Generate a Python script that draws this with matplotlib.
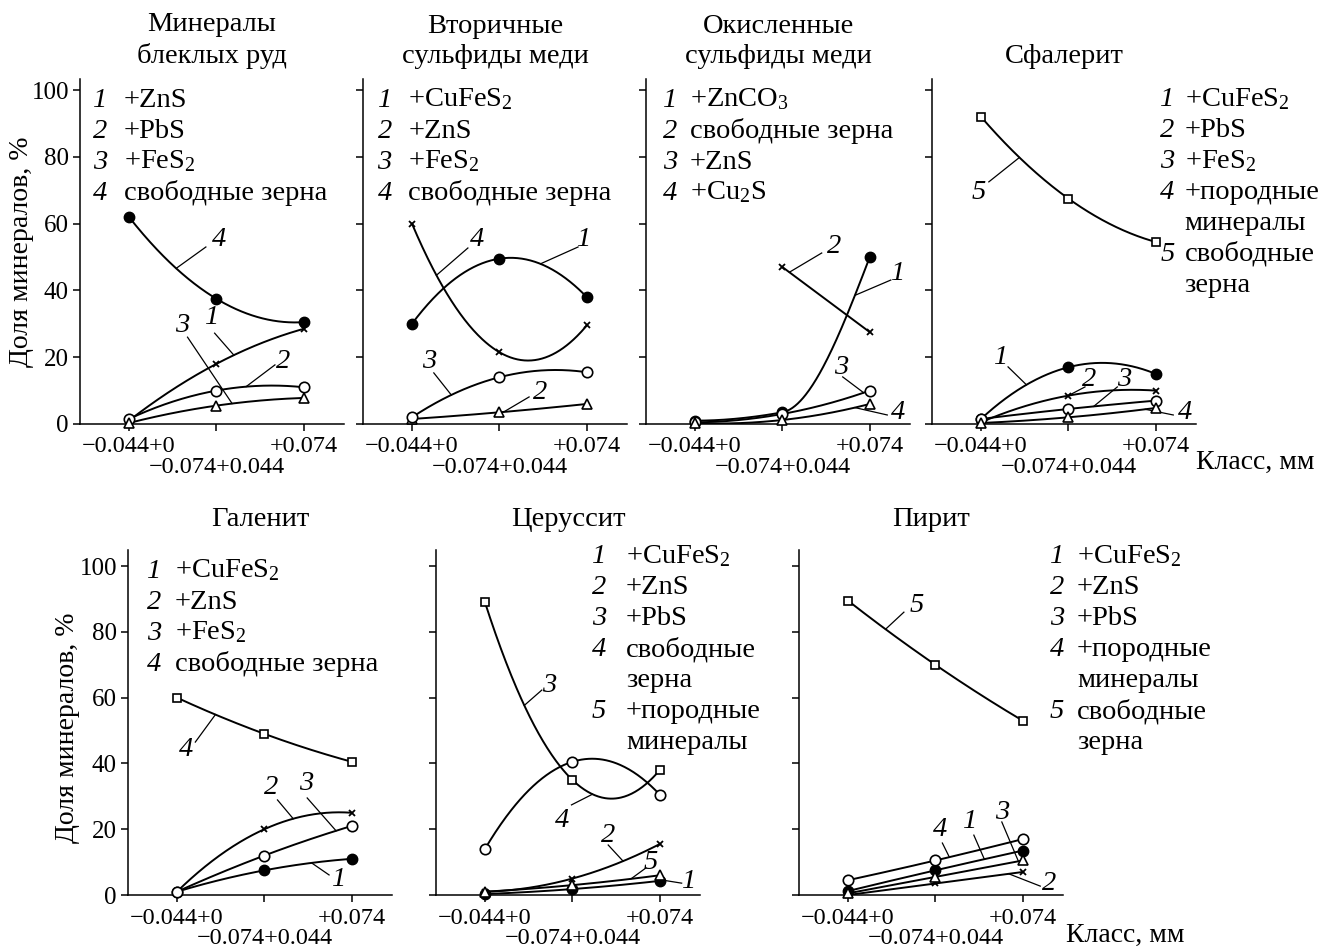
import numpy as np
import matplotlib
matplotlib.use('Agg')
import matplotlib.pyplot as plt
from matplotlib.transforms import blended_transform_factory

plt.rcParams['font.family'] = ['Liberation Serif', 'DejaVu Serif']
plt.rcParams['mathtext.fontset'] = 'custom'
plt.rcParams['mathtext.rm'] = 'Liberation Serif'
plt.rcParams['mathtext.it'] = 'Liberation Serif:italic'
plt.rcParams['font.size'] = 20.5

# size classes, mm
classes = ['\u22120.044+0', '\u22120.074+0.044', '+0.074']
nan = np.nan

# Минералы блеклых руд
fahl_zns = [1.0, 18, 28.5]
fahl_pbs = [1.5, 10, 11]
fahl_fes2 = [0.3, 5.5, 7.8]
fahl_free = [62, 37.5, 30.5]

# Вторичные сульфиды меди
sec_cufes2 = [30, 49.5, 38]
sec_zns = [1.5, 3.5, 6]
sec_fes2 = [2, 14, 15.5]
sec_free = [60, 21.5, 29.5]

# Окисленные сульфиды меди
ox_znco3 = [1, 3.5, 50]
ox_free = [nan, 47, 27.5]
ox_zns = [0.5, 3, 10]
ox_cu2s = [0.3, 1.2, 6]

# Сфалерит
sph_cufes2 = [1.5, 17, 15]
sph_pbs = [0.5, 8.5, 10]
sph_fes2 = [1.5, 4.5, 7]
sph_gangue = [0.3, 2, 4.8]
sph_free = [92, 67.5, 54.5]

# Галенит
gal_cufes2 = [1, 7.5, 11]
gal_zns = [1, 20, 25]
gal_fes2 = [1, 12, 21]
gal_free = [60, 49, 40.5]

# Церуссит
cer_cufes2 = [0.3, 1.8, 4.3]
cer_zns = [1, 5, 15.5]
cer_pbs = [89, 35, 38]
cer_free = [14, 40.5, 30.5]
cer_gangue = [1, 3, 6]

# Пирит
pyr_cufes2 = [1.2, 7.5, 13.5]
pyr_zns = [0, 3.5, 7]
pyr_pbs = [0.5, 5.5, 10.5]
pyr_gangue = [4.5, 10.5, 17]
pyr_free = [89.5, 70, 53]

leg_fahl = ['+ZnS', '+PbS', '+FeS$_2$', 'свободные зерна']
leg_sec = ['+CuFeS$_2$', '+ZnS', '+FeS$_2$', 'свободные зерна']
leg_ox = ['+ZnCO$_3$', 'свободные зерна', '+ZnS', '+Cu$_2$S']
leg_sph = ['+CuFeS$_2$', '+PbS', '+FeS$_2$', '+породные\nминералы', 'свободные\nзерна']
leg_gal = ['+CuFeS$_2$', '+ZnS', '+FeS$_2$', 'свободные зерна']
leg_cer = ['+CuFeS$_2$', '+ZnS', '+PbS', 'свободные\nзерна', '+породные\nминералы']
leg_pyr = ['+CuFeS$_2$', '+ZnS', '+PbS', '+породные\nминералы', 'свободные\nзерна']

MARKERS = {
    'filled': dict(marker='o', mfc='black', mec='black', ms=7.5),
    'circle': dict(marker='o', mfc='white', mec='black', ms=7.5, mew=1.2),
    'tri': dict(marker='^', mfc='white', mec='black', ms=7, mew=1.2),
    'square': dict(marker='s', mfc='white', mec='black', ms=6.2, mew=1.2),
    'cross': dict(marker='x', mec='black', ms=5, mew=1.3),
}


def pchip(xs, ys, xq):
    h = np.diff(xs)
    d = np.diff(ys) / h
    m = np.zeros_like(ys)
    for k in range(1, len(xs) - 1):
        if d[k - 1] * d[k] > 0:
            w1 = 2 * h[k] + h[k - 1]
            w2 = h[k] + 2 * h[k - 1]
            m[k] = (w1 + w2) / (w1 / d[k - 1] + w2 / d[k])

    def end(h0, h1, d0, d1):
        s = ((2 * h0 + h1) * d0 - h0 * d1) / (h0 + h1)
        if np.sign(s) != np.sign(d0):
            s = 0.0
        elif np.sign(d0) != np.sign(d1) and abs(s) > abs(3 * d0):
            s = 3 * d0
        return s
    m[0] = end(h[0], h[1], d[0], d[1])
    m[-1] = end(h[-1], h[-2], d[-1], d[-2])
    k = np.clip(np.searchsorted(xs, xq) - 1, 0, len(xs) - 2)
    t = (xq - xs[k]) / h[k]
    h00 = 2 * t**3 - 3 * t**2 + 1
    h10 = t**3 - 2 * t**2 + t
    h01 = -2 * t**3 + 3 * t**2
    h11 = t**3 - t**2
    return h00 * ys[k] + h10 * h[k] * m[k] + h01 * ys[k + 1] + h11 * h[k] * m[k + 1]


def evaluate(ys, kind, xq):
    xs = np.arange(len(ys), dtype=float)
    ys = np.asarray(ys, dtype=float)
    ok = ~np.isnan(ys)
    xs, ys = xs[ok], ys[ok]
    if len(xs) < 3 or kind == 'line':
        c = np.polyfit(xs, ys, 1)
        return np.polyval(c, xq)
    if kind == 'pchip':
        return pchip(xs, ys, np.asarray(xq, dtype=float))
    c = np.polyfit(xs, ys, 2)
    return np.polyval(c, xq)


W, H = 1339, 948
TOP = dict(top=79, bottom=424, ymax=103.3, dy=31 / 345, ty=1.028)
BOT = dict(top=550, bottom=895, ymax=104.9, dy=31 / 345, ty=1.053)

panels = [
    dict(left=80, row=TOP, title='Минералы\nблеклых руд', ylabel=True,
         series=[fahl_zns, fahl_pbs, fahl_fes2, fahl_free],
         markers=['cross', 'circle', 'tri', 'filled'],
         legend=leg_fahl, leg_xy=(0.05, 0.167, 0.92),
         labels=[('4', 3, (1.03, 55.1), (0.88, 53), 0.54),
                 ('1', 0, (0.95, 32), (0.98, 27.2), 1.2),
                 ('3', 2, (0.61, 29.6), (0.67, 26), 1.18),
                 ('2', 1, (1.76, 18.6), (1.67, 17.7), 1.34)]),
    dict(left=363, row=TOP, title='Вторичные\nсульфиды меди', ylabel=False,
         series=[sec_cufes2, sec_zns, sec_fes2, sec_free],
         markers=['filled', 'tri', 'circle', 'cross'],
         legend=leg_sec, leg_xy=(0.055, 0.172, 0.92),
         labels=[('4', 3, (0.75, 55.1), (0.64, 52.7), 0.28),
                 ('1', 0, (1.97, 55.1), (1.9, 53), 1.47),
                 ('3', 2, (0.2, 18.6), (0.25, 15.3), 0.45),
                 ('2', 1, (1.47, 9.3), (1.34, 8.1), 1.05)]),
    dict(left=646, row=TOP, title='Окисленные\nсульфиды меди', ylabel=False,
         series=[ox_znco3, ox_free, ox_zns, ox_cu2s],
         markers=['filled', 'cross', 'circle', 'tri'],
         smooth=['pchip', 'line', 'quad', 'quad'],
         legend=leg_ox, leg_xy=(0.065, 0.167, 0.92),
         labels=[('2', 1, (1.59, 53), (1.45, 51.2), 1.08),
                 ('1', 0, (2.32, 45.2), (2.24, 43.1), 1.83),
                 ('3', 2, (1.67, 16.8), (1.69, 14.1), 1.93),
                 ('4', 3, (2.32, 3.3), (2.2, 2.7), 1.83)]),
    dict(left=932, row=TOP, title='Сфалерит', ylabel=False,
         series=[sph_cufes2, sph_pbs, sph_fes2, sph_gangue, sph_free],
         markers=['filled', 'cross', 'circle', 'tri', 'square'],
         legend=leg_sph, leg_xy=(0.864, 0.957, 0.922),
         labels=[('5', 4, (-0.03, 69.2), (0.09, 72.5), 0.44),
                 ('1', 0, (0.23, 19.8), (0.31, 17.1), 0.52),
                 ('2', 1, (1.24, 13.2), (1.19, 11.1), 1.0),
                 ('3', 2, (1.64, 13.2), (1.56, 11.1), 1.29),
                 ('4', 3, (2.34, 3.3), (2.2, 2.7), 1.88)]),
    dict(left=128, row=BOT, title='Галенит', ylabel=True,
         series=[gal_cufes2, gal_zns, gal_fes2, gal_free],
         markers=['filled', 'cross', 'circle', 'square'],
         legend=leg_gal, leg_xy=(0.072, 0.178, 0.92),
         labels=[('4', 3, (0.1, 44.1), (0.21, 46.5), 0.44),
                 ('2', 1, (1.08, 32.8), (1.15, 28.9), 1.33),
                 ('3', 2, (1.48, 34), (1.49, 29.5), 1.82),
                 ('1', 0, (1.85, 4.6), (1.74, 6.1), 1.54)]),
    dict(left=436, row=BOT, title='Церуссит', ylabel=False,
         series=[cer_cufes2, cer_zns, cer_pbs, cer_free, cer_gangue],
         markers=['filled', 'cross', 'square', 'circle', 'tri'],
         legend=leg_cer, leg_xy=(0.59, 0.72, 0.962),
         labels=[('3', 2, (0.73, 63.8), (0.65, 62.3), 0.45),
                 ('4', 2, (0.88, 22.8), (0.99, 27.4), 1.23),
                 ('2', 1, (1.41, 18.2), (1.41, 15.2), 1.58),
                 ('5', 4, (1.9, 10), (1.84, 8.2), 1.67),
                 ('1', 0, (2.34, 4), (2.25, 3.6), 2.05)]),
    dict(left=799, row=BOT, title='Пирит', ylabel=False,
         series=[pyr_cufes2, pyr_zns, pyr_pbs, pyr_gangue, pyr_free],
         markers=['filled', 'cross', 'tri', 'circle', 'square'],
         legend=leg_pyr, leg_xy=(0.95, 1.053, 0.962),
         labels=[('5', 4, (0.79, 88.1), (0.64, 86), 0.43),
                 ('4', 3, (1.05, 19.8), (1.08, 15.8), 1.16),
                 ('1', 0, (1.4, 22.2), (1.44, 18.2), 1.56),
                 ('3', 2, (1.76, 25.2), (1.76, 22.2), 1.95),
                 ('2', 1, (2.3, 3.6), (2.2, 2.7), 1.84)]),
]

fig = plt.figure(figsize=(W / 100, H / 100), dpi=100)

for p in panels:
    row = p['row']
    ax = fig.add_axes([p['left'] / W, 1 - row['bottom'] / H, 264 / W,
                       (row['bottom'] - row['top']) / H])
    ax.set_xlim(-0.56, 2.46)
    ax.set_ylim(0, row['ymax'])
    for side in ('top', 'right'):
        ax.spines[side].set_visible(False)
    for side in ('left', 'bottom'):
        ax.spines[side].set_linewidth(1.1)

    kinds = p.get('smooth', ['quad'] * len(p['series']))
    xx = np.linspace(0, 2, 200)
    for ys, kind in zip(p['series'], kinds):
        ys = np.asarray(ys, dtype=float)
        x0 = np.arange(len(ys))[~np.isnan(ys)][0]
        seg = xx[xx >= x0]
        ax.plot(seg, evaluate(ys, kind, seg), color='black', lw=1.4, zorder=2)
    for ys, mk in zip(p['series'], p['markers']):
        ax.plot(np.arange(len(ys)), ys, ls='none', zorder=4, clip_on=False,
                **MARKERS[mk])

    # curve numbers with leader lines
    for txt, ci, txy, sxy, xc in p['labels']:
        yc = evaluate(p['series'][ci], kinds[ci], xc)
        ax.plot([sxy[0], xc], [sxy[1], yc], color='black', lw=0.9, zorder=3,
                clip_on=False)
        ax.text(txy[0], txy[1], txt, style='italic', ha='center', va='center')

    # legend block
    nx, tx, ly = p['leg_xy']
    dy = row['dy']
    r = 0
    for i, entry in enumerate(p['legend']):
        ax.text(nx, ly - r * dy, str(i + 1), style='italic',
                transform=ax.transAxes, va='baseline')
        for line in entry.split('\n'):
            ax.text(tx, ly - r * dy, line, transform=ax.transAxes,
                    va='baseline')
            r += 1

    ax.set_yticks([0, 20, 40, 60, 80, 100])
    ax.set_xticks([0, 1, 2])
    ax.set_xticklabels([classes[0], '', classes[2]], fontsize=17.5)
    trans = blended_transform_factory(ax.transData, ax.transAxes)
    ax.text(1, -0.125, classes[1], transform=trans, ha='center', va='center',
            fontsize=17.5)
    ax.tick_params(direction='out', length=5, width=1.1, pad=4)
    ax.tick_params(axis='y', labelsize=18, pad=3)
    if not p['ylabel']:
        ax.tick_params(axis='y', labelleft=False)

    ax.text(0.5, row['ty'], p['title'], transform=ax.transAxes, ha='center',
            va='bottom', linespacing=1.3)

fig.text(22 / W, 1 - 252 / H, 'Доля минералов, %', rotation=90,
         ha='center', va='center', fontsize=20)
fig.text(68 / W, 1 - 728 / H, 'Доля минералов, %', rotation=90,
         ha='center', va='center', fontsize=20)
fig.text(1255 / W, 1 - 462 / H, 'Класс, мм', ha='center', va='center',
         fontsize=20)
fig.text(1125 / W, 1 - 935 / H, 'Класс, мм', ha='center', va='center',
         fontsize=20)

fig.savefig('out.png', dpi=100)
